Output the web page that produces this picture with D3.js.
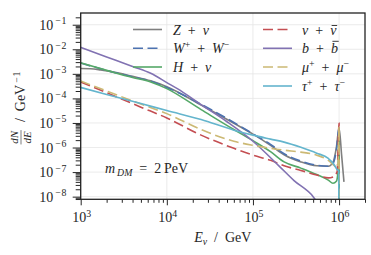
<!DOCTYPE html>
<html>
<head>
<meta charset="utf-8">
<script src="https://cdn.jsdelivr.net/npm/d3@7"></script>
<style>
  body { margin: 0; background: #fff; }
  svg text { font-family: "Liberation Serif", "DejaVu Serif", serif; fill: #262626; }
</style>
</head>
<body>
<svg id="chart" width="371" height="255"></svg>
<script>
// Neutrino spectra from 2 PeV dark matter, one array pair per channel (E in GeV, dN/dE in 1/GeV)
const zEnergy = [1e3, 1.3e3, 1.7e3, 2.2e3, 4e3, 6.5e3, 1e4, 2.5e4, 6e4, 1e5, 1.6e5, 2.3e5, 3.6e5, 5.5e5, 7.5e5, 8.5e5, 9.3e5, 1e6, 1.07e6, 1.14e6];
const zFlux = [1.66e-3, 1.62e-3, 1.45e-3, 1.26e-3, 7.9e-4, 5.2e-4, 3.0e-4, 5.4e-5, 9.8e-6, 3.5e-6, 1.23e-6, 5.1e-7, 2.6e-7, 1.8e-7, 1.74e-7, 2.5e-7, 1.0e-6, 6.2e-6, 5.0e-7, 4.0e-8];

const wEnergy = [1e3, 2e3, 4e3, 6.5e3, 1e4, 2.5e4, 6e4, 1e5, 1.6e5, 2.3e5, 3.6e5, 5.5e5, 7.5e5, 8.5e5, 9.3e5, 1e6, 1.002e6];
const wFlux = [2.75e-3, 1.38e-3, 7.6e-4, 5.0e-4, 2.8e-4, 5.75e-5, 1.05e-5, 3.6e-6, 1.35e-6, 5.6e-7, 2.8e-7, 1.9e-7, 1.74e-7, 2.2e-7, 7.9e-7, 6.3e-6, 3e-10];

const hEnergy = [1e3, 2.2e3, 4e3, 6.5e3, 1e4, 2.5e4, 6e4, 1e5, 1.6e5, 2.3e5, 3.6e5, 5.5e5, 7.5e5, 8.5e5, 9.3e5, 9.7e5, 1e6, 1.002e6];
const hFlux = [2.8e-3, 1.26e-3, 7.1e-4, 4.7e-4, 2.5e-4, 3.5e-5, 5.4e-6, 1.9e-6, 6.8e-7, 2.6e-7, 1.45e-7, 7.9e-8, 4.7e-8, 3.5e-8, 4.2e-8, 1.0e-7, 5.1e-6, 3e-10];

const nuEnergy = [1e3, 2e3, 5e3, 1e4, 2.5e4, 6e4, 1e5, 1.6e5, 2.3e5, 3.6e5, 5.5e5, 7.5e5, 8.7e5, 9.5e5, 1e6, 1.002e6];
const nuFlux = [4.7e-4, 1.7e-4, 4.4e-5, 1.6e-5, 3.2e-6, 9.3e-7, 4.9e-7, 3.0e-7, 1.8e-7, 1.17e-7, 7.6e-8, 5.8e-8, 6.6e-8, 1.05e-7, 9.8e-6, 3e-10];

const bEnergy = [1e3, 2e3, 4e3, 6.5e3, 1e4, 1.5e4, 2.5e4, 5e4, 1e5, 2e5, 3e5, 5e5, 7e5];
const bFlux = [1.2e-2, 4.9e-3, 2.0e-3, 1.05e-3, 4.4e-4, 1.9e-4, 5.6e-5, 1.12e-5, 1.8e-6, 1.8e-7, 4.5e-8, 1.0e-8, 1.6e-9];

const muEnergy = [1e3, 2e3, 5e3, 1e4, 2.5e4, 6e4, 1e5, 1.6e5, 2.3e5, 3.6e5, 5.5e5, 7.5e5, 8.7e5, 9.5e5, 9.8e5, 1e6, 1.002e6];
const muFlux = [5.1e-4, 2.0e-4, 5.9e-5, 2.4e-5, 5.4e-6, 1.8e-6, 1.23e-6, 9.3e-7, 7.8e-7, 6.5e-7, 4.9e-7, 3.0e-7, 1.9e-7, 1.45e-7, 3.2e-7, 7.1e-6, 3e-10];

const tauEnergy = [1e3, 2e3, 5e3, 1e4, 2.5e4, 6e4, 1e5, 1.6e5, 2.3e5, 3.6e5, 5.5e5, 7.5e5, 8.7e5, 9.5e5, 9.9e5, 1.0005e6];
const tauFlux = [2.8e-4, 1.45e-4, 6.2e-5, 3.2e-5, 1.38e-5, 5.1e-6, 3.2e-6, 2.2e-6, 1.66e-6, 1.02e-6, 5.9e-7, 3.6e-7, 2.1e-7, 1.26e-7, 1.12e-7, 1e-10];

const xTicks = [1e3, 1e4, 1e5, 1e6];
const yTicks = [1e-8, 1e-7, 1e-6, 1e-5, 1e-4, 1e-3, 1e-2, 1e-1];

// Build the series table from the arrays above
const series = [
  { key: 'z', energy: zEnergy, flux: zFlux, color: '#7f7f7f', dashed: false },
  { key: 'w', energy: wEnergy, flux: wFlux, color: '#4c72b0', dashed: true },
  { key: 'h', energy: hEnergy, flux: hFlux, color: '#55a868', dashed: false },
  { key: 'nu', energy: nuEnergy, flux: nuFlux, color: '#c44e52', dashed: true },
  { key: 'b', energy: bEnergy, flux: bFlux, color: '#8172b2', dashed: false },
  { key: 'mu', energy: muEnergy, flux: muFlux, color: '#ccb974', dashed: true },
  { key: 'tau', energy: tauEnergy, flux: tauFlux, color: '#64b5cd', dashed: false }
];

// Legend labels as math pieces: i = italic, sup/sub = script, bar = overbar height
const PLUS = { t: '\u2002+\u2002' };
const legendLabels = {
  z: [{ t: 'Z', i: 1 }, PLUS, { t: 'ν', i: 1 }],
  w: [{ t: 'W', i: 1 }, { t: '+', sup: 1 }, PLUS, { t: 'W', i: 1 }, { t: '−', sup: 1 }],
  h: [{ t: 'H', i: 1 }, PLUS, { t: 'ν', i: 1 }],
  nu: [{ t: 'ν', i: 1 }, PLUS, { t: 'ν', i: 1, bar: 9 }],
  b: [{ t: 'b', i: 1 }, PLUS, { t: 'b', i: 1, bar: 12 }],
  mu: [{ t: 'μ', i: 1 }, { t: '+', sup: 1 }, PLUS, { t: 'μ', i: 1 }, { t: '−', sup: 1 }],
  tau: [{ t: 'τ', i: 1 }, { t: '+', sup: 1 }, PLUS, { t: 'τ', i: 1 }, { t: '−', sup: 1 }]
};

const FS = 14;
const plot = { left: 80.7, right: 365, top: 13, bottom: 199.3 };

const svg = d3.select('#chart');

const x = d3.scaleLog().domain([1e3, 2e6]).range([plot.left, plot.right]);
const y = d3.scaleLog().domain([7.8e-9, 0.3]).range([plot.bottom, plot.top]);

// Append math-like text made of tspans
function addMath(textSel, parts, size) {
  let shift = 0;
  const bars = [];
  parts.forEach(p => {
    const ts = textSel.append('tspan').text(p.t);
    const target = p.sup ? -5.5 : p.sub ? 3 : 0;
    ts.attr('dy', target - shift);
    shift = target;
    if (p.i) ts.attr('font-style', 'italic');
    ts.attr('font-size', (p.sup || p.sub) ? size * 0.7 : size);
    if (p.bar) bars.push({ node: ts.node(), h: p.bar });
  });
  bars.forEach(b => {
    const ext = b.node.getExtentOfChar(0);
    const baseY = +textSel.attr('y');
    d3.select(textSel.node().parentNode).append('line')
      .attr('x1', ext.x + 1.5).attr('x2', ext.x + ext.width + 0.8)
      .attr('y1', baseY - b.h).attr('y2', baseY - b.h)
      .attr('stroke', '#262626').attr('stroke-width', 0.9);
  });
  return textSel;
}

// Grid lines at major ticks
const grid = svg.append('g');
xTicks.forEach(v => {
  grid.append('line')
    .attr('x1', x(v)).attr('x2', x(v))
    .attr('y1', plot.top).attr('y2', plot.bottom)
    .attr('stroke', '#e6e6e6').attr('stroke-width', 0.8);
});
yTicks.forEach(v => {
  grid.append('line')
    .attr('x1', plot.left).attr('x2', plot.right)
    .attr('y1', y(v)).attr('y2', y(v))
    .attr('stroke', '#e6e6e6').attr('stroke-width', 0.8);
});

// Clip path for the curves
svg.append('defs').append('clipPath').attr('id', 'plot-clip')
  .append('rect')
  .attr('x', plot.left).attr('y', plot.top)
  .attr('width', plot.right - plot.left).attr('height', plot.bottom - plot.top);

const line = d3.line()
  .x(d => x(d[0]))
  .y(d => y(d[1]))
  .curve(d3.curveMonotoneX);

const curves = svg.append('g').attr('clip-path', 'url(#plot-clip)');
series.forEach(s => {
  const pts = s.energy.map((e, i) => [e, s.flux[i]]);
  curves.append('path')
    .attr('d', line(pts))
    .attr('fill', 'none')
    .attr('stroke', s.color)
    .attr('stroke-width', 1.6)
    .attr('stroke-dasharray', s.dashed ? '10,4.5' : null);
});

// Minor tick values
const xMinor = [];
for (let d = 1e3; d < 2e6; d *= 10) {
  for (let k = 2; k <= 9; k++) if (d * k <= 2e6) xMinor.push(d * k);
}
const yMinor = [];
for (let d = 1e-9; d < 0.3; d *= 10) {
  for (let k = 2; k <= 9; k++) if (d * k >= 7.8e-9 && d * k <= 0.3) yMinor.push(d * k);
}

// Axes (ticks only, labels drawn by hand)
const xAxisMinor = d3.axisBottom(x).tickValues(xMinor).tickSize(3.5).tickFormat('');
const xAxisMajor = d3.axisBottom(x).tickValues(xTicks).tickSize(6).tickFormat('');
const yAxisMinor = d3.axisLeft(y).tickValues(yMinor).tickSize(5).tickFormat('');
const yAxisMajor = d3.axisLeft(y).tickValues(yTicks).tickSize(8).tickFormat('');

[xAxisMinor, xAxisMajor].forEach(ax => {
  const g = svg.append('g').attr('transform', `translate(0,${plot.bottom})`).call(ax);
  g.select('.domain').remove();
  g.selectAll('line').attr('stroke', '#262626').attr('stroke-width', 1);
});
[yAxisMinor, yAxisMajor].forEach(ax => {
  const g = svg.append('g').attr('transform', `translate(${plot.left},0)`).call(ax);
  g.select('.domain').remove();
  g.selectAll('line').attr('stroke', '#262626').attr('stroke-width', 1);
});

// Tick labels 10^n
xTicks.forEach(v => {
  const t = svg.append('text')
    .attr('x', x(v) + 1).attr('y', 222)
    .attr('text-anchor', 'middle');
  addMath(t, [{ t: '10' }, { t: String(Math.round(Math.log10(v))), sup: 1 }], FS);
});
yTicks.forEach(v => {
  const t = svg.append('text')
    .attr('x', 66.5).attr('y', y(v) + 5)
    .attr('text-anchor', 'end');
  addMath(t, [{ t: '10' }, { t: '\u2009−\u200a' + String(Math.round(-Math.log10(v))), sup: 1 }], FS);
});

// Frame
svg.append('rect')
  .attr('x', plot.left).attr('y', plot.top)
  .attr('width', plot.right - plot.left).attr('height', plot.bottom - plot.top)
  .attr('fill', 'none').attr('stroke', '#222').attr('stroke-width', 1.3);

// Legend: two columns, no frame
const legendCols = [
  { lineX: 133, textX: 173, keys: ['z', 'w', 'h'] },
  { lineX: 263, textX: 302, keys: ['nu', 'b', 'mu', 'tau'] }
];
const legendRowY = [29.5, 48.3, 67, 86];
legendCols.forEach(col => {
  col.keys.forEach((key, row) => {
    const s = series.find(d => d.key === key);
    const ly = legendRowY[row];
    svg.append('line')
      .attr('x1', col.lineX).attr('x2', col.lineX + 29)
      .attr('y1', ly).attr('y2', ly)
      .attr('stroke', s.color).attr('stroke-width', 1.6)
      .attr('stroke-dasharray', s.dashed ? '10,4.5' : null);
    const t = svg.append('text').attr('x', col.textX).attr('y', ly + 5);
    addMath(t, legendLabels[key], FS);
  });
});

// Annotation m_DM = 2 PeV
const ann = svg.append('text').attr('x', 105).attr('y', 173);
addMath(ann, [{ t: 'm', i: 1 }, { t: '\u2009DM', i: 1, sub: 1 }, { t: '\u2002=\u20022\u2009PeV' }], FS);

// x label
const xl = svg.append('text').attr('x', 222.8).attr('y', 241.5).attr('text-anchor', 'middle');
addMath(xl, [{ t: 'E', i: 1 }, { t: 'ν', i: 1, sub: 1 }, { t: '\u2002/\u2002GeV' }], FS);

// y label: fraction dN/dE followed by / GeV^-1, rotated
const yl = svg.append('g').attr('transform', 'translate(25,108) rotate(-90)');
const inner = yl.append('g');
const num = inner.append('text').attr('y', -7).attr('text-anchor', 'middle')
  .attr('font-size', 11).attr('font-style', 'italic').text('dN');
const den = inner.append('text').attr('y', 5.5).attr('text-anchor', 'middle')
  .attr('font-size', 11).attr('font-style', 'italic').text('dE');
const fracW = Math.max(num.node().getComputedTextLength(), den.node().getComputedTextLength()) + 1.5;
num.attr('x', fracW / 2);
den.attr('x', fracW / 2);
inner.append('line')
  .attr('x1', 0).attr('x2', fracW)
  .attr('y1', -4).attr('y2', -4)
  .attr('stroke', '#262626').attr('stroke-width', 0.6);
const rest = inner.append('text').attr('x', fracW + 1).attr('y', 0);
addMath(rest, [{ t: '\u2002/\u2002GeV' }, { t: '\u2009−\u200a1', sup: 1 }], FS);
const totalW = fracW + 1 + rest.node().getComputedTextLength();
inner.attr('transform', `translate(${-totalW / 2},0)`);
</script>
</body>
</html>
